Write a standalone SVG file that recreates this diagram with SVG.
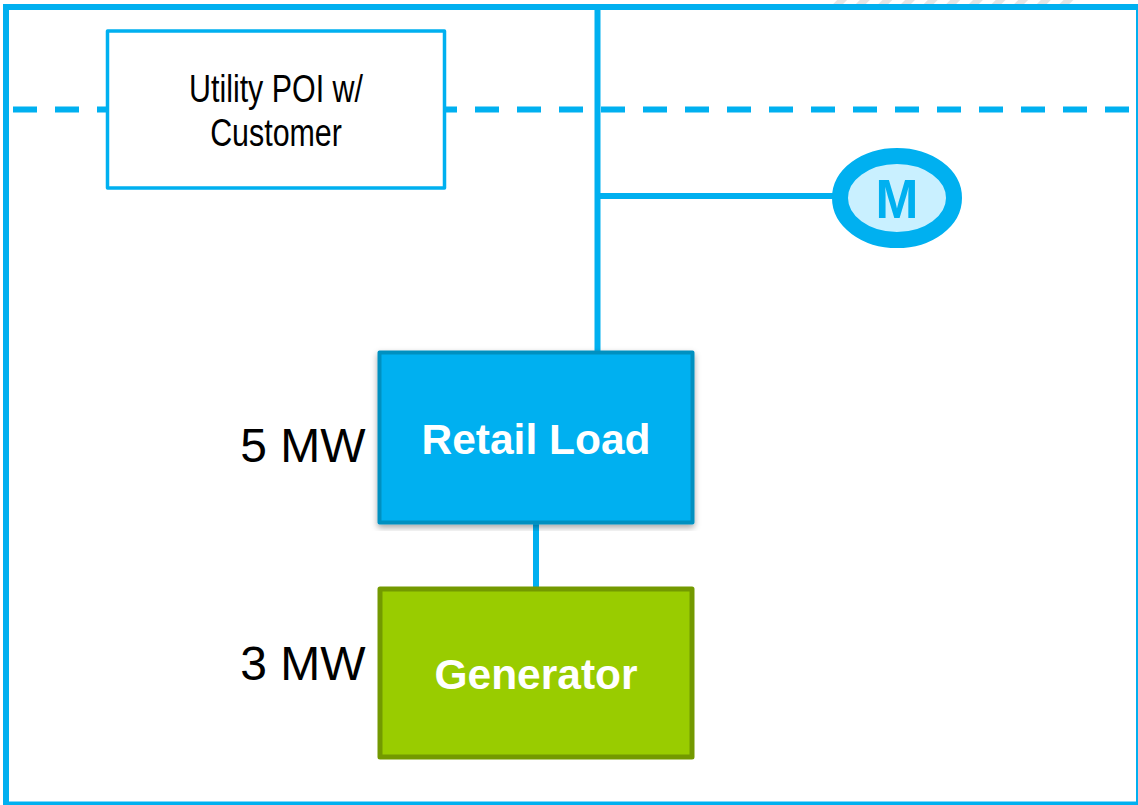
<svg xmlns="http://www.w3.org/2000/svg" width="1138" height="805" viewBox="0 0 1138 805">
<style>
.w{fill:none;stroke:#00b0f0;stroke-width:6}
text{font-family:"Liberation Sans",Arial,sans-serif;text-anchor:middle}
.b{font-weight:700;fill:#fff;font-size:42.500px}
.m{font-size:48px;fill:#000}
.u{font-size:38px;fill:#000}
</style>
<defs>
<filter id="s" x="-5%" y="-5%" width="110%" height="110%"><feDropShadow dx="0" dy="3" stdDeviation="3" flood-color="#000" flood-opacity="0.35"/></filter>
<pattern id="h" width="16" height="16" patternUnits="userSpaceOnUse" patternTransform="rotate(45)"><rect width="7" height="16" fill="#e4e4e4"/></pattern>
</defs>
<rect width="1138" height="805" fill="#fff"/>
<rect x="830" y="0" width="245" height="4" fill="url(#h)"/>
<g id="connectors">
<rect id="frame" x="6" y="7" width="1133" height="797.500" class="w"/>
<path class="w" d="M13 109.500H1130" stroke-dasharray="24 18"/>
<path class="w" d="M597.500 7V352M597.500 196H836"/>
<path class="w" d="M536 523V588"/>
</g>
<g id="poi"><rect x="107.500" y="31" width="337" height="157" fill="#fff" stroke="#00b0f0" stroke-width="3.500" stroke-linejoin="round"/>
<text class="u" transform="translate(276 101.500) scale(.8 1)">Utility POI w/</text><text class="u" transform="translate(276 146) scale(.8 1)">Customer</text></g>
<g id="meter"><ellipse cx="897" cy="198" rx="57" ry="42" fill="#c9f0ff" stroke="#00b0f0" stroke-width="16"/><text transform="translate(897 218) scale(.92 1)" font-size="56" font-weight="700" fill="#00b0f0">M</text></g>
<g id="retail"><rect x="379.500" y="352.500" width="313" height="170" fill="#00b0f0" stroke="#0090c0" stroke-width="4" stroke-linejoin="round" filter="url(#s)"/><text class="b" x="536" y="454">Retail Load</text></g>
<g id="generator"><rect x="380" y="589" width="312" height="168" fill="#99cc00" stroke="#739900" stroke-width="5" stroke-linejoin="round"/><text class="b" x="536" y="689">Generator</text></g>
<text class="m" x="303" y="462">5 MW</text>
<text class="m" x="303" y="680">3 MW</text>
</svg>
